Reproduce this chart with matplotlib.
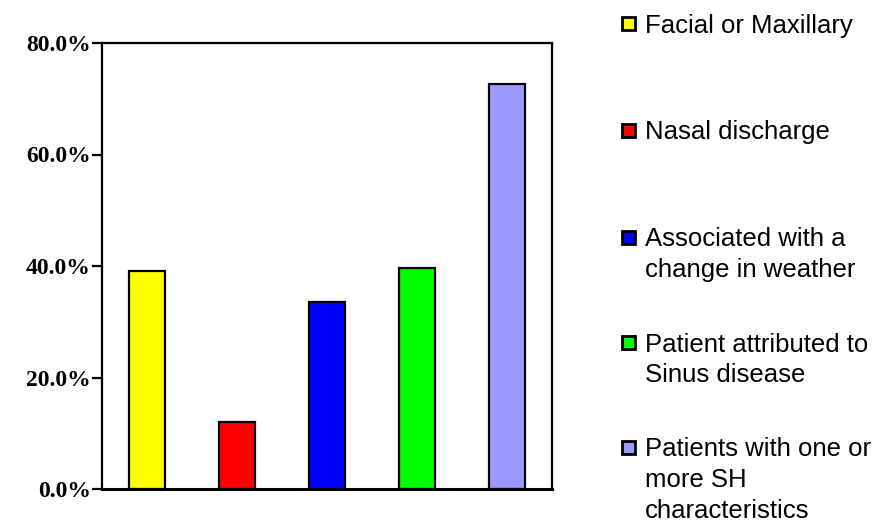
import matplotlib.pyplot as plt
from matplotlib.patches import Rectangle

# Data
categories = ['Facial or Maxillary', 'Nasal discharge',
              'Associated with a\nchange in weather',
              'Patient attributed to\nSinus disease',
              'Patients with one or\nmore SH\ncharacteristics']
values = [39.1, 12.0, 33.5, 39.6, 72.6]
colors = ['#ffff00', '#ff0000', '#0000ff', '#00ff00', '#9999ff']
yticks = [0, 20, 40, 60, 80]

W, H = 879, 521
fig = plt.figure(figsize=(W / 100, H / 100), dpi=100)
ax = fig.add_axes([102 / W, 32 / H, 450 / W, 446 / H])

x = range(len(values))
ax.bar(x, values, width=0.4, color=colors, edgecolor='black', linewidth=1.6)

ax.set_xlim(-0.5, len(values) - 0.5)
ax.set_ylim(0, 80)
ax.set_yticks(yticks)
ax.set_yticklabels([f'{v:.1f}%' for v in yticks], fontfamily='Liberation Serif',
                   fontweight='bold', fontsize=17)
ax.set_xticks([])
ax.tick_params(axis='y', direction='out', length=7, width=1.6, pad=1)
for side in ['left', 'right', 'top']:
    ax.spines[side].set_linewidth(1.6)
ax.spines['bottom'].set_linewidth(2.2)

# Legend drawn by hand to keep the wide spacing of the original
entry_y = [23, 130, 237, 342, 447]
line_h = 30.5
for lab, col, yc in zip(categories, colors, entry_y):
    fig.add_artist(Rectangle((622 / W, 1 - (yc + 7) / H), 13 / W, 13 / H,
                             transform=fig.transFigure, facecolor=col,
                             edgecolor='black', linewidth=2))
    for i, line in enumerate(lab.split('\n')):
        fig.text(645 / W, 1 - (yc + i * line_h) / H, line,
                 fontsize=18.5, family='Liberation Sans', va='center_baseline',
                 ha='left')

fig.savefig('out.png', dpi=100)
